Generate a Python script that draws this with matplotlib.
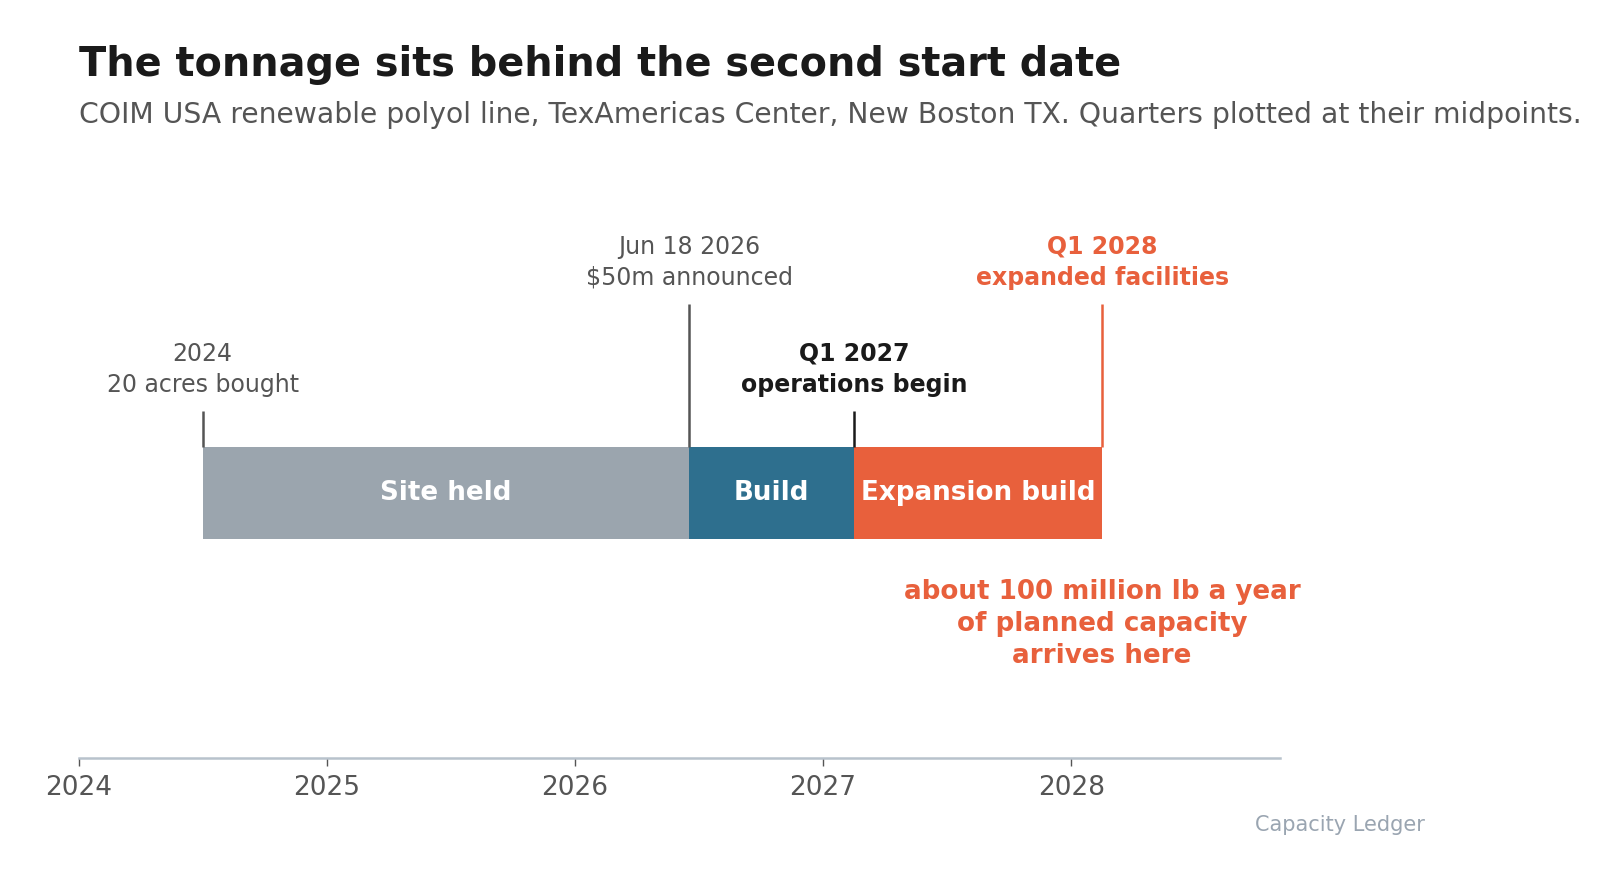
import datetime as dt
import matplotlib
matplotlib.use("Agg")
from matplotlib import pyplot as plt

# helper: date -> decimal year
def dec_year(d):
    start = dt.date(d.year, 1, 1)
    days = (dt.date(d.year + 1, 1, 1) - start).days
    return d.year + (d - start).days / days

# phases of the project
phase_names = ["Site held", "Build", "Expansion build"]
phase_start = [2024.5, dec_year(dt.date(2026, 6, 18)), 2027.125]
phase_end = [dec_year(dt.date(2026, 6, 18)), 2027.125, 2028.125]
phase_colors = ["#9ba5ae", "#2e6f8e", "#e8603c"]

# milestones (quarters at midpoints)
event_x = [2024.5, dec_year(dt.date(2026, 6, 18)), 2027.125, 2028.125]
event_text = ["2024\n20 acres bought", "Jun 18 2026\n$50m announced",
              "Q1 2027\noperations begin", "Q1 2028\nexpanded facilities"]
event_tall = [False, True, False, True]
event_color = ["#555555", "#555555", "#1a1a1a", "#e8603c"]
event_bold = [False, False, True, True]

year_ticks = [2024, 2025, 2026, 2027, 2028]

fig = plt.figure(figsize=(16.23, 8.82), dpi=100)
ax = fig.add_axes([0.0484, 0.1403, 0.7400, 0.6720])

# bars
for name, s, e, c in zip(phase_names, phase_start, phase_end, phase_colors):
    ax.barh(0, e - s, left=s, height=1.0, color=c, edgecolor="none")
    ax.text((s + e) / 2, 0, name, ha="center", va="center", color="white",
            fontsize=18.8, fontweight="bold")

# milestone stems + labels
for x, lab, tall, col, bold in zip(event_x, event_text, event_tall, event_color, event_bold):
    top = 2.06 if tall else 0.893
    ax.plot([x, x], [0.5, top], color=col, lw=1.8, solid_capstyle="butt")
    ax.text(x, top + 0.15, lab, ha="center", va="bottom", color=col, fontsize=17,
            fontweight="bold" if bold else "normal", linespacing=1.38)

ax.text(2028.125, -1.42, "about 100 million lb a year\nof planned capacity\narrives here",
        ha="center", va="center", color="#e8603c", fontsize=18.8, fontweight="bold",
        linespacing=1.3)

ax.set_xlim(2024, 2028.84)
ax.set_ylim(-2.88, 3.56)
ax.set_xticks(year_ticks)
ax.set_xticklabels([str(y) for y in year_ticks])
ax.set_yticks([])
for sp in ["top", "right", "left"]:
    ax.spines[sp].set_visible(False)
ax.spines["bottom"].set_color("#b8c2cc")
ax.spines["bottom"].set_linewidth(1.8)
ax.tick_params(axis="x", direction="out", length=6, width=1, color="#555555",
               labelsize=19, labelcolor="#555555", pad=6)

fig.text(0.0484, 0.9133, "The tonnage sits behind the second start date",
         fontsize=28.6, fontweight="bold", color="#1a1a1a", va="baseline")
fig.text(0.0484, 0.8605, "COIM USA renewable polyol line, TexAmericas Center, New Boston TX. "
         "Quarters plotted at their midpoints.", fontsize=20.3, color="#555555", va="baseline")
fig.text(0.8777, 0.0582, "Capacity Ledger", fontsize=15, color="#9aa5b1",
         ha="right", va="baseline")

fig.savefig("out.png", dpi=100)
